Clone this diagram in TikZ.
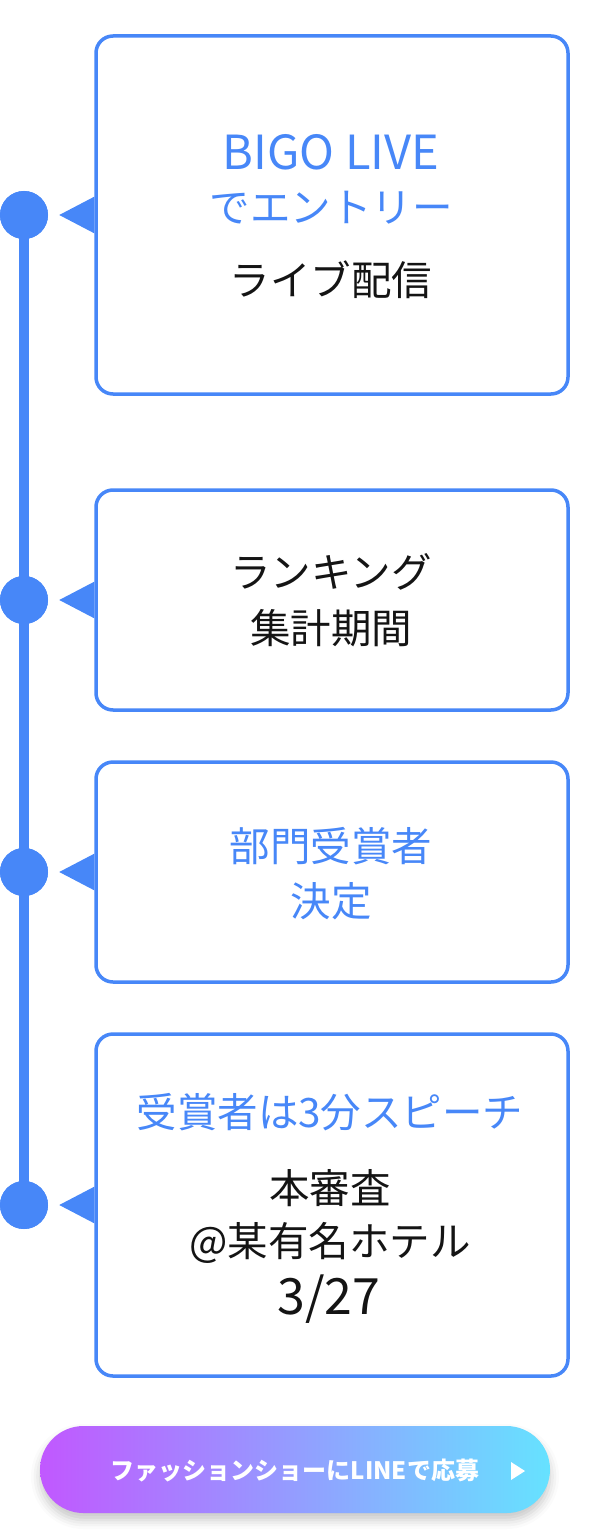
\documentclass[tikz,border=0pt]{standalone}
\usepackage{fontspec}
\setmainfont{Noto Sans CJK JP}
\usetikzlibrary{shadows.blur}
\definecolor{tlblue}{HTML}{4787F8}
\definecolor{txtblack}{HTML}{141414}
\definecolor{btnleft}{HTML}{C158FF}
\definecolor{btnright}{HTML}{66E2FF}
\begin{document}
\begin{tikzpicture}[x=1pt,y=-1pt,
  box/.style={draw=tlblue, line width=3.5pt, rounded corners=17pt, fill=white,
    minimum width=472pt, inner sep=0pt},
  dot/.style={circle, fill=tlblue, minimum size=48pt, inner sep=0pt},
  tip/.style={fill=tlblue},
  bluetxt/.style={font=\fontsize{40.5}{44}\selectfont, text=tlblue, inner sep=0pt},
  blacktxt/.style={font=\fontsize{40.5}{44}\selectfont, text=txtblack, inner sep=0pt},
  latin/.style={font=\fontsize{47}{50}\selectfont},
  bigdate/.style={font=\fontsize{50}{54}\selectfont},
  btn/.style={rounded corners=43.5pt, minimum width=510pt, minimum height=87pt,
    inner sep=0pt, left color=btnleft, right color=btnright,
    blur shadow={shadow xshift=0pt, shadow yshift=-7pt, shadow blur radius=9pt, shadow opacity=22}},
  btntxt/.style={font=\fontsize{24}{26}\selectfont\bfseries, text=white, inner sep=0pt}]
\useasboundingbox (0,0) rectangle (590,1538);

% timeline
\node[dot] (c1) at (24,215) {};
\node[dot] (c2) at (24,600) {};
\node[dot] (c3) at (24,872) {};
\node[dot] (c4) at (24,1205) {};
\draw[tlblue, line width=10pt] (c1.center) -- (c4.center);
\node[dot] at (c1) {};
\node[dot] at (c2) {};
\node[dot] at (c3) {};
\node[dot] at (c4) {};

% boxes
\node[box, minimum height=358pt] (b1) at (332,215) {};
\node[box, minimum height=220pt] (b2) at (332,600) {};
\node[box, minimum height=220pt] (b3) at (332,872) {};
\node[box, minimum height=342pt] (b4) at (332,1205) {};

% pointers
\foreach \b in {b1,b2,b3,b4}{
  \fill[tip] ([xshift=-35pt]\b.west) -- ([yshift=18.3pt]\b.west) -- ([yshift=-18.3pt]\b.west) -- cycle;
}

% texts
\node[bluetxt, latin] (t11) at (331,152) {BIGO LIVE};
\node[bluetxt] (t12) at (331,208) {でエントリー};
\node[blacktxt] (t13) at (331,280) {ライブ配信};

\node[blacktxt] (t21) at (331,572) {ランキング};
\node[blacktxt] (t22) at (331,628) {集計期間};

\node[bluetxt] (t31) at (331,846) {部門受賞者};
\node[bluetxt] (t32) at (331,901) {決定};

\node[bluetxt] (t41) at (330,1112) {受賞者は3分スピーチ};
\node[blacktxt] (t42) at (330,1188) {本審査};
\node[blacktxt] (t43) at (330,1243) {@某有名ホテル};
\node[blacktxt, bigdate] (t44) at (329,1299) {3/27};

% button
\node[btn] (btn) at (295,1469.5) {};
\node[btntxt] (btnt) at (295,1471) {ファッションショーにLINEで応募};
\coordinate (play) at (518,1471);
\fill[white] ([xshift=-7pt,yshift=9pt]play) -- ([xshift=7pt]play) -- ([xshift=-7pt,yshift=-9pt]play) -- cycle;
\end{tikzpicture}
\end{document}
